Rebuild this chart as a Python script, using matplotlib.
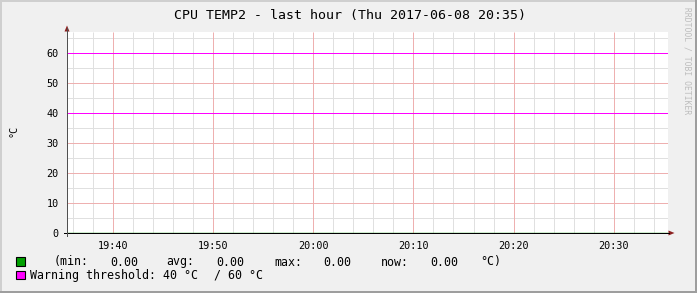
import matplotlib
matplotlib.use("Agg")
import matplotlib.pyplot as plt
import matplotlib.dates as mdates
from matplotlib.patches import Rectangle, Polygon
import pandas as pd

# Данные графика
temp_times = pd.to_datetime(["2017-06-08 19:35:25", "2017-06-08 20:35:25"])
temp_values = [0.00, 0.00]
thresholds = [40, 60]
x_start = pd.Timestamp("2017-06-08 19:35:25")
x_end = pd.Timestamp("2017-06-08 20:35:25")
y_max = 67

title = "CPU TEMP2 - last hour (Thu 2017-06-08 20:35)"
stats_labels = ["(min:", "avg:", "max:", "now:"]
stats_values = ["0.00", "0.00", "0.00", "0.00"]
unit = "°C"
warning_text = ["Warning threshold: 40 °C", "/ 60 °C"]

W, H = 697, 293
MONO = "DejaVu Sans Mono"
PX = 0.72  # 1 пиксель в пунктах при dpi=100


def fx(x):
    return x / W


def fy(y):
    return 1 - y / H


fig = plt.figure(figsize=(W / 100, H / 100), dpi=100, facecolor="#f0f0f0")

# Рамка в стиле rrdtool (под осями)
def bg_rect(x0, y0, x1, y1, color):
    fig.add_artist(Rectangle((fx(x0), fy(y1)), fx(x1 - x0), fy(y0) - fy(y1),
                             transform=fig.transFigure, facecolor=color, edgecolor="none", zorder=-5))


bg_rect(0, 0, W, H, "#9e9e9e")
bg_rect(0, 0, W - 2, H - 2, "#cfcfcf")
bg_rect(2, 2, W - 2, H - 2, "#f0f0f0")

# Область графика
left, right, top, bottom = 67, 668, 32, 233
ax = fig.add_axes([fx(left), fy(bottom), fx(right - left), fy(top) - fy(bottom)])
ax.set_facecolor("white")
ax.set_xlim(x_start, x_end)
ax.set_ylim(0, y_max)
for s in ax.spines.values():
    s.set_visible(False)

# Сетка: сначала мелкая, потом крупная
MINOR = "#e0e0e0"
MAJOR = "#eeb0b0"
grid_times = pd.date_range(x_start.ceil("2min"), x_end, freq="2min")
minor_x = [mdates.date2num(t) for t in grid_times if t.minute % 10 != 0]
major_x = [mdates.date2num(t) for t in grid_times if t.minute % 10 == 0]
minor_y = [v for v in range(5, y_max, 5) if v % 10 != 0]
major_y = [v for v in range(5, y_max, 5) if v % 10 == 0]
ax.vlines(minor_x, 0, y_max, colors=MINOR, lw=PX, zorder=1, snap=True)
ax.hlines(minor_y, mdates.date2num(x_start), mdates.date2num(x_end), colors=MINOR, lw=PX, zorder=1, snap=True)
ax.vlines(major_x, 0, y_max, colors=MAJOR, lw=PX, zorder=2, snap=True)
ax.hlines(major_y, mdates.date2num(x_start), mdates.date2num(x_end), colors=MAJOR, lw=PX, zorder=2, snap=True)

# Пороги
ax.hlines(thresholds, mdates.date2num(x_start), mdates.date2num(x_end), colors="#ff00ff", lw=PX,
          zorder=4, snap=True)

# Серия
ax.plot(temp_times, temp_values, color="#00a000", lw=1, zorder=3)

# Подписи осей
ax.xaxis.set_major_locator(mdates.MinuteLocator(byminute=range(0, 60, 10)))
ax.xaxis.set_major_formatter(mdates.DateFormatter("%H:%M"))
ax.yaxis.set_major_locator(plt.MultipleLocator(10))
ax.tick_params(axis="x", length=0, pad=6, labelsize=7.3, labelfontfamily=MONO)
ax.tick_params(axis="y", length=0, pad=6, labelsize=7.3, labelfontfamily=MONO)

# Оси со стрелками
fig.add_artist(plt.Line2D([fx(64), fx(669)], [fy(233), fy(233)], transform=fig.transFigure,
                          color="black", lw=PX, snap=True))
fig.add_artist(plt.Line2D([fx(67), fx(67)], [fy(236), fy(28)], transform=fig.transFigure,
                          color="#505050", lw=PX, snap=True))
fig.add_artist(Polygon([(fx(64.5), fy(31.5)), (fx(69.5), fy(31.5)), (fx(67), fy(25.5))], closed=True,
                       transform=fig.transFigure, facecolor="#8c2020", edgecolor="none"))
fig.add_artist(Polygon([(fx(668.5), fy(230.5)), (fx(668.5), fy(235.5)), (fx(674.5), fy(233))], closed=True,
                       transform=fig.transFigure, facecolor="#8c2020", edgecolor="none"))

# Заголовок и подписи
fig.text(fx(349.5), fy(16), title, ha="center", va="center", fontsize=9.5, family=MONO)
fig.text(fx(13), fy(131), unit, ha="center", va="center", rotation=90, fontsize=7.3, family=MONO)
fig.text(fx(687.5), fy(7), "RRDTOOL / TOBI OETIKER", ha="center", va="top", rotation=270,
         fontsize=5.8, family=MONO, color="#bdbdbd")

# Легенда
fig.add_artist(Rectangle((fx(16), fy(265.5)), fx(8.5), fy(257) - fy(265.5), transform=fig.transFigure,
                         facecolor="#00a000", edgecolor="black", lw=0.8))
fig.add_artist(Rectangle((fx(16), fy(279)), fx(8.5), fy(270.5) - fy(279), transform=fig.transFigure,
                         facecolor="#ff00ff", edgecolor="black", lw=0.8))

fs = 8.4
label_x = [53.3, 166.7, 274.3, 381]
value_x = [110, 216.7, 323.3, 430]
for lx, lab in zip(label_x, stats_labels):
    fig.text(fx(lx), fy(262), lab, ha="left", va="center", fontsize=fs, family=MONO)
for vx, val in zip(value_x, stats_values):
    fig.text(fx(vx), fy(262), val, ha="left", va="center", fontsize=fs, family=MONO)
fig.text(fx(480), fy(262), unit + ")", ha="left", va="center", fontsize=fs, family=MONO)
fig.text(fx(30), fy(275.5), warning_text[0], ha="left", va="center", fontsize=fs, family=MONO)
fig.text(fx(214.3), fy(275.5), warning_text[1], ha="left", va="center", fontsize=fs, family=MONO)

fig.savefig("out.png", dpi=100, facecolor=fig.get_facecolor())
